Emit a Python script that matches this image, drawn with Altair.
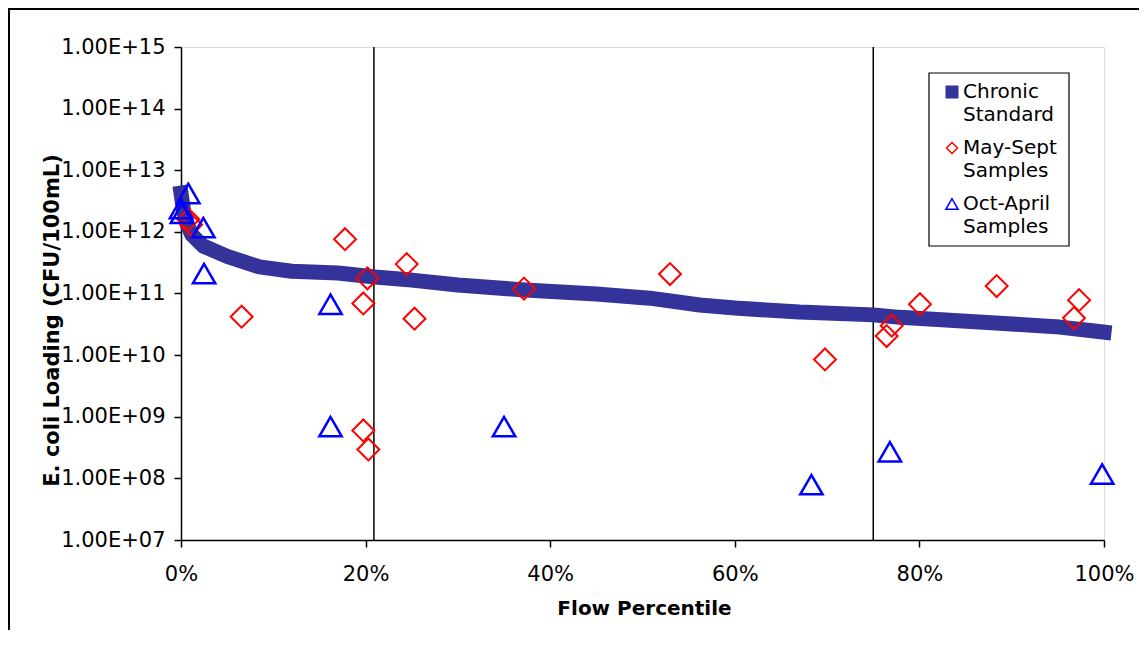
import altair as alt
import pandas as pd

# ---- data ----
curve_pct = [0.000, 0.003, 0.007, 0.012, 0.024, 0.050, 0.085, 0.12, 0.17, 0.21, 0.25,
             0.30, 0.373, 0.45, 0.508, 0.562, 0.60, 0.67, 0.75, 0.779, 0.887, 0.952, 0.98, 1.000]
curve_load = [4.27e12, 2.09e12, 1.29e12, 8.9e11, 5.9e11, 4.0e11, 2.7e11, 2.3e11, 2.15e11, 1.85e11, 1.65e11,
              1.37e11, 1.14e11, 9.8e10, 8.4e10, 6.5e10, 5.8e10, 5.0e10, 4.5e10, 4.1e10, 3.3e10, 2.85e10, 2.55e10, 2.36e10]

may_pct = [0.008, 0.011, 0.0657, 0.1777, 0.1975, 0.1975, 0.202, 0.203, 0.2445, 0.253,
           0.3716, 0.5298, 0.6977, 0.7645, 0.770, 0.8006, 0.8837, 0.9675, 0.973]
may_load = [1.6e12, 1.3e12, 4.2e10, 7.6e11, 6.9e10, 6.0e8, 1.76e11, 2.95e8, 3.0e11, 3.9e10,
            1.2e11, 2.07e11, 8.5e9, 2.04e10, 3.0e10, 6.7e10, 1.32e11, 4.0e10, 7.8e10]

oct_pct = [0.000, 0.001, 0.0079, 0.0242, 0.025, 0.162, 0.162, 0.350, 0.683, 0.768, 0.998]
oct_load = [2.4e12, 2.0e12, 4.2e12, 1.17e12, 2.1e11, 6.7e10, 6.9e8, 6.9e8, 7.9e7, 2.7e8, 1.18e8]

divider_pct = [0.209, 0.75]

x_ticks = [0, 0.2, 0.4, 0.6, 0.8, 1.0]
y_ticks = [1e7, 1e8, 1e9, 1e10, 1e11, 1e12, 1e13, 1e14, 1e15]

legend_names = [("Chronic", "Standard"), ("May-Sept", "Samples"), ("Oct-April", "Samples")]

FONT = "DejaVu Sans"

curve_df = pd.DataFrame({"pct": curve_pct, "load": curve_load})
may_df = pd.DataFrame({"pct": may_pct, "load": may_load})
oct_df = pd.DataFrame({"pct": oct_pct, "load": oct_load})
div_df = pd.DataFrame({"pct": divider_pct})

x_enc = alt.X(
    "pct:Q",
    scale=alt.Scale(domain=[0, 1], nice=False, zero=False),
    axis=alt.Axis(
        values=x_ticks, format=".0%", title="Flow Percentile",
        labelFont=FONT, labelFontSize=21, labelColor="black", labelPadding=16,
        labelFlush=False,
        tickSize=7, tickColor="black", tickWidth=1.5,
        domainColor="black", domainWidth=1.5, grid=False,
        titleFont=FONT, titleFontSize=20, titleFontWeight="bold", titleColor="black",
        titleBaseline="middle", titleY=68, titleX=463, titleAlign="center",
    ),
)
y_enc = alt.Y(
    "load:Q",
    scale=alt.Scale(type="log", domain=[1e7, 1e15], nice=False),
    axis=alt.Axis(
        values=y_ticks,
        labelExpr="'1.00E+' + format(round(log(datum.value)/LN10), '02d')",
        title="E. coli Loading (CFU/100mL)",
        labelFont=FONT, labelFontSize=21, labelColor="black", labelPadding=9,
        labelFlush=False,
        tickSize=7, tickColor="black", tickWidth=1.5,
        domainColor="black", domainWidth=1.5, grid=False,
        titleFont=FONT, titleFontSize=21, titleFontWeight="bold", titleColor="black",
        titleAngle=270, titleBaseline="middle", titleAlign="center",
        titleX=-129, titleY=273,
    ),
)

dividers = alt.Chart(div_df).mark_rule(color="black", strokeWidth=1.5).encode(x=x_enc)

curve = alt.Chart(curve_df).mark_line(
    color="#333399", strokeWidth=15, strokeCap="square", strokeJoin="round"
).encode(x=x_enc, y=y_enc)

may = alt.Chart(may_df).mark_point(
    shape="diamond", filled=False, color="#FF0000", strokeWidth=2, size=480, opacity=1
).encode(x=x_enc, y=y_enc)

octo = alt.Chart(oct_df).mark_point(
    shape="triangle-up", filled=False, color="#0000FF", strokeWidth=2.5, size=500, opacity=1
).encode(x=x_enc, y=y_enc)

# ---- legend box (plot-area pixel coordinates) ----
one = alt.Data(values=[{"k": 0}])
LX0, LX1, LY0, LY1 = 748, 888, 26, 199
legend_box = alt.Chart(one).mark_rect(fill="white", stroke="black", strokeWidth=1.2).encode(
    x=alt.value(LX0), x2=alt.value(LX1), y=alt.value(LY0), y2=alt.value(LY1)
)
sym_x = 771
entry_y = [45, 101, 157]
line_gap = 23
text_x = 782

legend_layers = [legend_box]
legend_layers.append(alt.Chart(one).mark_point(
    shape="square", filled=True, color="#333399", size=169, opacity=1
).encode(x=alt.value(sym_x), y=alt.value(entry_y[0])))
legend_layers.append(alt.Chart(one).mark_point(
    shape="diamond", filled=False, color="#FF0000", strokeWidth=1.5, size=121, opacity=1
).encode(x=alt.value(sym_x), y=alt.value(entry_y[1])))
legend_layers.append(alt.Chart(one).mark_point(
    shape="triangle-up", filled=False, color="#0000FF", strokeWidth=1.5, size=150, opacity=1
).encode(x=alt.value(sym_x), y=alt.value(entry_y[2])))
for (l1, l2), ey in zip(legend_names, entry_y):
    for i, txt in enumerate((l1, l2)):
        legend_layers.append(alt.Chart(one).mark_text(
            align="left", baseline="middle", font=FONT, fontSize=20, color="black"
        ).encode(x=alt.value(text_x), y=alt.value(ey + i * line_gap), text=alt.value(txt)))

# outer page frame lines (left and top), relative to plot origin
frame_left = alt.Chart(one).mark_rule(color="black", strokeWidth=2).encode(
    x=alt.value(-172), y=alt.value(-39), y2=alt.value(600)
)
frame_top = alt.Chart(one).mark_rule(color="black", strokeWidth=2).encode(
    x=alt.value(-172), x2=alt.value(970), y=alt.value(-38)
)

chart = alt.layer(
    dividers, curve, may, octo, *legend_layers, frame_left, frame_top
).properties(
    width=923, height=493,
    padding={"left": 173, "top": 39, "right": 35, "bottom": 90},
    autosize=alt.AutoSizeParams(type="none"),
).configure_view(
    stroke="#808080", strokeWidth=2.5
).configure(background="white")

chart.save("out.html", embed_options={"renderer": "svg", "actions": False})
